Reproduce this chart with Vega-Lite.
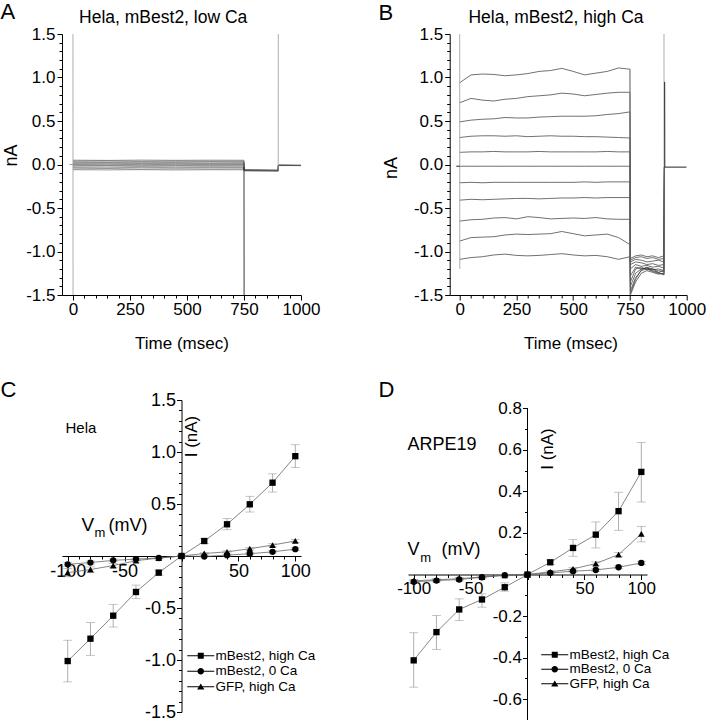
{
  "$schema": "https://vega.github.io/schema/vega-lite/v6.json",
  "padding": 0,
  "bounds": "full",
  "spacing": 27,
  "resolve": {"scale": {"shape": "independent"}, "legend": {"shape": "independent"}},
  "config": {
    "font": "Liberation Sans",
    "view": {"stroke": null},
    "axis": {"grid": false, "domainColor": "#000", "tickColor": "#000", "labelColor": "#000", "titleColor": "#000", "titleFontWeight": "normal", "labelFlush": false, "labelOverlap": false, "domainWidth": 1, "tickWidth": 1, "labelFont": "Liberation Sans", "titleFont": "Liberation Sans"},
    "legend": {"labelColor": "#000", "labelFont": "Liberation Sans"}
  },
  "datasets": {
    "traceA": [
      {"t": -15, "a6": 0},
      {"t": 0, "a1": 0.05, "a2": 0.04, "a3": 0.03, "a4": 0.02, "a5": 0.01, "a6": 0, "a7": -0.01, "a8": -0.02, "a9": -0.035, "a10": -0.05, "a11": -0.06},
      {"t": 150, "a1": 0.047, "a2": 0.043, "a3": 0.028, "a4": 0.022, "a5": 0.008, "a6": 0.003, "a7": -0.012, "a8": -0.018, "a9": -0.038, "a10": -0.047, "a11": -0.062},
      {"t": 300, "a1": 0.051, "a2": 0.038, "a3": 0.031, "a4": 0.019, "a5": 0.011, "a6": -0.002, "a7": -0.009, "a8": -0.022, "a9": -0.033, "a10": -0.052, "a11": -0.059},
      {"t": 450, "a1": 0.048, "a2": 0.041, "a3": 0.029, "a4": 0.021, "a5": 0.009, "a6": 0.002, "a7": -0.011, "a8": -0.019, "a9": -0.036, "a10": -0.049, "a11": -0.063},
      {"t": 600, "a1": 0.05, "a2": 0.039, "a3": 0.032, "a4": 0.018, "a5": 0.01, "a6": -0.001, "a7": -0.01, "a8": -0.021, "a9": -0.034, "a10": -0.051, "a11": -0.06},
      {"t": 750, "a1": 0.049, "a2": 0.04, "a3": 0.03, "a4": 0.02, "a5": 0.01, "a6": 0, "a7": -0.01, "a8": -0.02, "a9": -0.035, "a10": -0.05, "a11": -0.061},
      {"t": 751, "a1": -0.062, "a2": -0.063, "a3": -0.064, "a4": -0.065, "a5": -0.066, "a6": -0.067, "a7": -0.068, "a8": -0.069, "a9": -0.07, "a10": -0.071, "a11": -0.072},
      {"t": 825, "a1": -0.064, "a2": -0.065, "a3": -0.066, "a4": -0.066, "a5": -0.067, "a6": -0.068, "a7": -0.069, "a8": -0.07, "a9": -0.071, "a10": -0.072, "a11": -0.073},
      {"t": 900, "a1": -0.066, "a2": -0.067, "a3": -0.067, "a4": -0.068, "a5": -0.069, "a6": -0.07, "a7": -0.07, "a8": -0.071, "a9": -0.072, "a10": -0.073, "a11": -0.074},
      {"t": 901, "a1": -0.008, "a2": -0.009, "a3": -0.009, "a4": -0.01, "a5": -0.01, "a6": -0.01, "a7": -0.01, "a8": -0.011, "a9": -0.011, "a10": -0.012, "a11": -0.012},
      {"t": 1000, "a1": -0.01, "a2": -0.01, "a3": -0.011, "a4": -0.011, "a5": -0.011, "a6": -0.011, "a7": -0.011, "a8": -0.012, "a9": -0.012, "a10": -0.012, "a11": -0.012}
    ],
    "spikeA": [
      {"trace": "s0", "t": 0, "i": 1.5}, {"trace": "s0", "t": 0.5, "i": -1.5},
      {"trace": "s900", "t": 900, "i": -0.07}, {"trace": "s900", "t": 900.5, "i": 1.5}
    ],
    "stepA": [
      {"trace": "s750", "t": 750, "i": -0.03}, {"trace": "s750", "t": 750.5, "i": -1.5}
    ],
    "traceB": [
      {"t": 0, "b1": 0.94, "b2": 0.71, "b3": 0.49, "b4": 0.31, "b5": 0.14, "b6": -0.02, "b7": -0.21, "b8": -0.41, "b9": -0.65, "b10": -0.88, "b11": -1.09},
      {"t": 50, "b1": 1.03, "b2": 0.76, "b3": 0.51, "b4": 0.325, "b5": 0.145, "b6": -0.02, "b7": -0.205, "b8": -0.4, "b9": -0.635, "b10": -0.84, "b11": -1.07},
      {"t": 100, "b1": 1.04, "b2": 0.74, "b3": 0.52, "b4": 0.33, "b5": 0.145, "b6": -0.02, "b7": -0.21, "b8": -0.405, "b9": -0.63, "b10": -0.835, "b11": -1.06},
      {"t": 150, "b1": 1.035, "b2": 0.73, "b3": 0.525, "b4": 0.33, "b5": 0.15, "b6": -0.02, "b7": -0.205, "b8": -0.4, "b9": -0.615, "b10": -0.83, "b11": -1.04},
      {"t": 200, "b1": 1.02, "b2": 0.75, "b3": 0.54, "b4": 0.325, "b5": 0.145, "b6": -0.02, "b7": -0.205, "b8": -0.395, "b9": -0.61, "b10": -0.81, "b11": -1.03},
      {"t": 250, "b1": 1.03, "b2": 0.76, "b3": 0.535, "b4": 0.33, "b5": 0.145, "b6": -0.02, "b7": -0.205, "b8": -0.39, "b9": -0.625, "b10": -0.8, "b11": -1.045},
      {"t": 300, "b1": 1.045, "b2": 0.78, "b3": 0.535, "b4": 0.32, "b5": 0.145, "b6": -0.02, "b7": -0.205, "b8": -0.39, "b9": -0.6, "b10": -0.805, "b11": -1.05},
      {"t": 350, "b1": 1.07, "b2": 0.79, "b3": 0.545, "b4": 0.325, "b5": 0.15, "b6": -0.02, "b7": -0.205, "b8": -0.395, "b9": -0.61, "b10": -0.8, "b11": -1.045},
      {"t": 400, "b1": 1.08, "b2": 0.8, "b3": 0.55, "b4": 0.33, "b5": 0.145, "b6": -0.02, "b7": -0.205, "b8": -0.39, "b9": -0.625, "b10": -0.795, "b11": -1.035},
      {"t": 450, "b1": 1.105, "b2": 0.82, "b3": 0.555, "b4": 0.325, "b5": 0.145, "b6": -0.02, "b7": -0.205, "b8": -0.385, "b9": -0.62, "b10": -0.77, "b11": -1.025},
      {"t": 500, "b1": 1.07, "b2": 0.81, "b3": 0.555, "b4": 0.325, "b5": 0.145, "b6": -0.02, "b7": -0.205, "b8": -0.385, "b9": -0.615, "b10": -0.795, "b11": -1.04},
      {"t": 550, "b1": 1.03, "b2": 0.79, "b3": 0.555, "b4": 0.32, "b5": 0.145, "b6": -0.02, "b7": -0.2, "b8": -0.38, "b9": -0.62, "b10": -0.82, "b11": -1.05},
      {"t": 600, "b1": 1.05, "b2": 0.805, "b3": 0.56, "b4": 0.32, "b5": 0.145, "b6": -0.02, "b7": -0.205, "b8": -0.385, "b9": -0.61, "b10": -0.81, "b11": -1.045},
      {"t": 650, "b1": 1.07, "b2": 0.82, "b3": 0.575, "b4": 0.315, "b5": 0.15, "b6": -0.02, "b7": -0.2, "b8": -0.38, "b9": -0.625, "b10": -0.8, "b11": -1.06},
      {"t": 700, "b1": 1.11, "b2": 0.83, "b3": 0.585, "b4": 0.31, "b5": 0.145, "b6": -0.02, "b7": -0.2, "b8": -0.38, "b9": -0.63, "b10": -0.84, "b11": -1.09},
      {"t": 750, "b1": 1.095, "b2": 0.83, "b3": 0.605, "b4": 0.305, "b5": 0.145, "b6": -0.02, "b7": -0.2, "b8": -0.38, "b9": -0.63, "b10": -0.92, "b11": -1.06},
      {"t": 752, "b1": -1.08, "b2": -1.1, "b3": -1.12, "b4": -1.15, "b5": -1.2, "b6": -1.28, "b7": -1.35, "b8": -1.4, "b9": -1.45, "b10": -1.48, "b11": -1.5},
      {"t": 775, "b1": -1.05, "b2": -1.07, "b3": -1.09, "b4": -1.12, "b5": -1.15, "b6": -1.18, "b7": -1.2, "b8": -1.25, "b9": -1.3, "b10": -1.32, "b11": -1.35},
      {"t": 800, "b1": -1.04, "b2": -1.06, "b3": -1.1, "b4": -1.13, "b5": -1.17, "b6": -1.2, "b7": -1.18, "b8": -1.2, "b9": -1.22, "b10": -1.21, "b11": -1.25},
      {"t": 825, "b1": -1.06, "b2": -1.08, "b3": -1.12, "b4": -1.15, "b5": -1.16, "b6": -1.19, "b7": -1.21, "b8": -1.19, "b9": -1.2, "b10": -1.18, "b11": -1.22},
      {"t": 850, "b1": -1.05, "b2": -1.07, "b3": -1.11, "b4": -1.14, "b5": -1.18, "b6": -1.21, "b7": -1.2, "b8": -1.22, "b9": -1.23, "b10": -1.2, "b11": -1.24},
      {"t": 875, "b1": -1.07, "b2": -1.09, "b3": -1.1, "b4": -1.16, "b5": -1.17, "b6": -1.2, "b7": -1.22, "b8": -1.24, "b9": -1.25, "b10": -1.24, "b11": -1.26},
      {"t": 900, "b1": -1.05, "b2": -1.08, "b3": -1.12, "b4": -1.15, "b5": -1.19, "b6": -1.22, "b7": -1.23, "b8": -1.22, "b9": -1.26, "b10": -1.27, "b11": -1.25},
      {"t": 902, "b1": -0.03, "b2": -0.03, "b3": -0.03, "b4": -0.03, "b5": -0.03, "b6": -0.03, "b7": -0.03, "b8": -0.03, "b9": -0.03, "b10": -0.03, "b11": -0.03}
    ],
    "spikeB": [
      {"trace": "s0", "t": 0, "i": 1.5}, {"trace": "s0", "t": 0.5, "i": -1.2},
      {"trace": "s750", "t": 750, "i": 1.1}, {"trace": "s750", "t": 750.5, "i": -1.5},
      {"trace": "s900", "t": 900, "i": 1.5}, {"trace": "s900", "t": 900.5, "i": -1.26}
    ],
    "stepB": [
      {"trace": "base", "t": -15, "i": -0.02}, {"trace": "base", "t": 0, "i": -0.02},
      {"trace": "s903", "t": 903, "i": 0.95}, {"trace": "s903", "t": 903.5, "i": -0.03},
      {"trace": "post", "t": 903, "i": -0.03}, {"trace": "post", "t": 1000, "i": -0.03}
    ],
    "ivC": [
      {"series": "mBest2, high Ca", "v": -100, "i": -1.01, "lo": -1.21, "hi": -0.81},
      {"series": "mBest2, high Ca", "v": -80, "i": -0.795, "lo": -0.955, "hi": -0.64},
      {"series": "mBest2, high Ca", "v": -60, "i": -0.574, "lo": -0.683, "hi": -0.465},
      {"series": "mBest2, high Ca", "v": -40, "i": -0.346, "lo": -0.41, "hi": -0.28},
      {"series": "mBest2, high Ca", "v": -20, "i": -0.16, "lo": -0.185, "hi": -0.135},
      {"series": "mBest2, high Ca", "v": 0, "i": 0, "lo": -0.01, "hi": 0.01},
      {"series": "mBest2, high Ca", "v": 20, "i": 0.144, "lo": 0.12, "hi": 0.165},
      {"series": "mBest2, high Ca", "v": 40, "i": 0.305, "lo": 0.253, "hi": 0.36},
      {"series": "mBest2, high Ca", "v": 60, "i": 0.497, "lo": 0.423, "hi": 0.574},
      {"series": "mBest2, high Ca", "v": 80, "i": 0.705, "lo": 0.615, "hi": 0.79},
      {"series": "mBest2, high Ca", "v": 100, "i": 0.96, "lo": 0.85, "hi": 1.07},
      {"series": "mBest2, 0 Ca", "v": -100, "i": -0.08, "lo": -0.1, "hi": -0.06},
      {"series": "mBest2, 0 Ca", "v": -80, "i": -0.063, "lo": -0.078, "hi": -0.048},
      {"series": "mBest2, 0 Ca", "v": -60, "i": -0.042, "lo": -0.055, "hi": -0.029},
      {"series": "mBest2, 0 Ca", "v": -40, "i": -0.03, "lo": -0.04, "hi": -0.02},
      {"series": "mBest2, 0 Ca", "v": -20, "i": -0.019, "lo": -0.026, "hi": -0.012},
      {"series": "mBest2, 0 Ca", "v": 0, "i": 0, "lo": -0.005, "hi": 0.005},
      {"series": "mBest2, 0 Ca", "v": 20, "i": -0.004, "lo": -0.01, "hi": 0.002},
      {"series": "mBest2, 0 Ca", "v": 40, "i": 0.008, "lo": 0.0, "hi": 0.016},
      {"series": "mBest2, 0 Ca", "v": 60, "i": 0.022, "lo": 0.012, "hi": 0.032},
      {"series": "mBest2, 0 Ca", "v": 80, "i": 0.04, "lo": 0.03, "hi": 0.05},
      {"series": "mBest2, 0 Ca", "v": 100, "i": 0.066, "lo": 0.054, "hi": 0.078},
      {"series": "GFP, high Ca", "v": -100, "i": -0.16, "lo": -0.2, "hi": -0.12},
      {"series": "GFP, high Ca", "v": -80, "i": -0.13, "lo": -0.155, "hi": -0.105},
      {"series": "GFP, high Ca", "v": -60, "i": -0.092, "lo": -0.112, "hi": -0.072},
      {"series": "GFP, high Ca", "v": -40, "i": -0.045, "lo": -0.058, "hi": -0.032},
      {"series": "GFP, high Ca", "v": -20, "i": -0.02, "lo": -0.028, "hi": -0.012},
      {"series": "GFP, high Ca", "v": 0, "i": 0, "lo": -0.005, "hi": 0.005},
      {"series": "GFP, high Ca", "v": 20, "i": 0.024, "lo": 0.016, "hi": 0.032},
      {"series": "GFP, high Ca", "v": 40, "i": 0.04, "lo": 0.03, "hi": 0.05},
      {"series": "GFP, high Ca", "v": 60, "i": 0.07, "lo": 0.058, "hi": 0.082},
      {"series": "GFP, high Ca", "v": 80, "i": 0.105, "lo": 0.092, "hi": 0.118},
      {"series": "GFP, high Ca", "v": 100, "i": 0.145, "lo": 0.13, "hi": 0.16}
    ],
    "ivD": [
      {"series": "mBest2, high Ca", "v": -100, "i": -0.413, "lo": -0.542, "hi": -0.28},
      {"series": "mBest2, high Ca", "v": -80, "i": -0.277, "lo": -0.36, "hi": -0.197},
      {"series": "mBest2, high Ca", "v": -60, "i": -0.168, "lo": -0.221, "hi": -0.117},
      {"series": "mBest2, high Ca", "v": -40, "i": -0.12, "lo": -0.157, "hi": -0.093},
      {"series": "mBest2, high Ca", "v": -20, "i": -0.061, "lo": -0.08, "hi": -0.04},
      {"series": "mBest2, high Ca", "v": 0, "i": 0, "lo": -0.005, "hi": 0.005},
      {"series": "mBest2, high Ca", "v": 20, "i": 0.059, "lo": 0.048, "hi": 0.07},
      {"series": "mBest2, high Ca", "v": 40, "i": 0.128, "lo": 0.088, "hi": 0.168},
      {"series": "mBest2, high Ca", "v": 60, "i": 0.192, "lo": 0.128, "hi": 0.253},
      {"series": "mBest2, high Ca", "v": 80, "i": 0.305, "lo": 0.213, "hi": 0.396},
      {"series": "mBest2, high Ca", "v": 100, "i": 0.494, "lo": 0.349, "hi": 0.636},
      {"series": "mBest2, 0 Ca", "v": -100, "i": -0.035, "lo": -0.042, "hi": -0.028},
      {"series": "mBest2, 0 Ca", "v": -80, "i": -0.029, "lo": -0.035, "hi": -0.023},
      {"series": "mBest2, 0 Ca", "v": -60, "i": -0.024, "lo": -0.03, "hi": -0.018},
      {"series": "mBest2, 0 Ca", "v": -40, "i": -0.013, "lo": -0.018, "hi": -0.008},
      {"series": "mBest2, 0 Ca", "v": -20, "i": -0.003, "lo": -0.007, "hi": 0.001},
      {"series": "mBest2, 0 Ca", "v": 0, "i": 0, "lo": -0.003, "hi": 0.003},
      {"series": "mBest2, 0 Ca", "v": 20, "i": 0.008, "lo": 0.004, "hi": 0.012},
      {"series": "mBest2, 0 Ca", "v": 40, "i": 0.016, "lo": 0.011, "hi": 0.021},
      {"series": "mBest2, 0 Ca", "v": 60, "i": 0.022, "lo": 0.016, "hi": 0.028},
      {"series": "mBest2, 0 Ca", "v": 80, "i": 0.035, "lo": 0.028, "hi": 0.042},
      {"series": "mBest2, 0 Ca", "v": 100, "i": 0.056, "lo": 0.048, "hi": 0.064},
      {"series": "GFP, high Ca", "v": -100, "i": -0.03, "lo": -0.036, "hi": -0.024},
      {"series": "GFP, high Ca", "v": -80, "i": -0.025, "lo": -0.03, "hi": -0.02},
      {"series": "GFP, high Ca", "v": -60, "i": -0.02, "lo": -0.025, "hi": -0.015},
      {"series": "GFP, high Ca", "v": -40, "i": -0.012, "lo": -0.016, "hi": -0.008},
      {"series": "GFP, high Ca", "v": -20, "i": -0.004, "lo": -0.007, "hi": -0.001},
      {"series": "GFP, high Ca", "v": 0, "i": 0, "lo": -0.003, "hi": 0.003},
      {"series": "GFP, high Ca", "v": 20, "i": 0.013, "lo": 0.008, "hi": 0.018},
      {"series": "GFP, high Ca", "v": 40, "i": 0.027, "lo": 0.02, "hi": 0.034},
      {"series": "GFP, high Ca", "v": 60, "i": 0.053, "lo": 0.045, "hi": 0.061},
      {"series": "GFP, high Ca", "v": 80, "i": 0.096, "lo": 0.086, "hi": 0.106},
      {"series": "GFP, high Ca", "v": 100, "i": 0.196, "lo": 0.157, "hi": 0.232}
    ]
  },
  "vconcat": [
    {
      "bounds": "flush",
      "spacing": 148.7,
      "hconcat": [
        {
          "width": 239, "height": 261,
          "resolve": {"axis": {"x": "independent", "y": "independent"}},
          "layer": [
            {
              "data": {"name": "traceA"},
              "transform": [{"fold": ["a1", "a2", "a3", "a4", "a5", "a6", "a7", "a8", "a9", "a10", "a11"], "as": ["trace", "i"]}],
              "mark": {"type": "line", "stroke": "#555", "strokeWidth": 0.6, "clip": true},
              "encoding": {
                "x": {"field": "t", "type": "quantitative", "scale": {"domain": [-48, 1000], "nice": false, "zero": false},
                  "axis": {"orient": "bottom", "values": [0, 250, 500, 750, 1000], "format": "d", "tickSize": 5, "labelFontSize": 17, "labelPadding": 1, "title": "Time (msec)", "titleFontSize": 17, "titleX": 119.5, "titleY": 53, "titleAlign": "center", "titleBaseline": "alphabetic", "titleAngle": 0}},
                "y": {"field": "i", "type": "quantitative", "scale": {"domain": [-1.5, 1.5], "nice": false, "zero": false},
                  "axis": {"orient": "left", "values": [-1.5, -1, -0.5, 0, 0.5, 1, 1.5], "labelExpr": "(datum.value < 0 ? '-' : '') + format(abs(datum.value), '.1f')", "tickSize": 5, "labelFontSize": 17, "labelPadding": 2, "title": "nA", "titleFontSize": 18, "titleX": -50.5, "titleY": 121, "titleAngle": 270, "titleAlign": "center", "titleBaseline": "middle"}},
                "detail": {"field": "trace"}
              }
            },
            {
              "data": {"name": "spikeA"},
              "mark": {"type": "line", "stroke": "#999", "strokeWidth": 0.8, "clip": true},
              "encoding": {
                "x": {"field": "t", "type": "quantitative", "scale": {"domain": [-48, 1000], "nice": false, "zero": false}, "axis": null},
                "y": {"field": "i", "type": "quantitative", "scale": {"domain": [-1.5, 1.5], "nice": false, "zero": false}, "axis": null},
                "detail": {"field": "trace"}
              }
            },
            {
              "data": {"name": "stepA"},
              "mark": {"type": "line", "stroke": "#222", "strokeWidth": 0.9, "clip": true},
              "encoding": {
                "x": {"field": "t", "type": "quantitative", "scale": {"domain": [-48, 1000], "nice": false, "zero": false}, "axis": null},
                "y": {"field": "i", "type": "quantitative", "scale": {"domain": [-1.5, 1.5], "nice": false, "zero": false}, "axis": null},
                "detail": {"field": "trace"}
              }
            },
            {
              "data": {"name": "traceA"},
              "transform": [{"filter": "false"}],
              "mark": {"type": "point", "opacity": 0},
              "encoding": {
                "x": {"field": "t", "type": "quantitative", "scale": {"domain": [-48, 1000], "nice": false, "zero": false},
                  "axis": {"orient": "bottom", "values": [50, 100, 150, 200, 300, 350, 400, 450, 550, 600, 650, 700, 800, 850, 900, 950], "tickSize": 3, "labels": false, "domain": false, "title": null}},
                "y": {"field": "a1", "type": "quantitative", "scale": {"domain": [-1.5, 1.5], "nice": false, "zero": false},
                  "axis": {"orient": "left", "values": [-1.4, -1.3, -1.2, -1.1, -0.9, -0.8, -0.7, -0.6, -0.4, -0.3, -0.2, -0.1, 0.1, 0.2, 0.3, 0.4, 0.6, 0.7, 0.8, 0.9, 1.1, 1.2, 1.3, 1.4], "tickSize": 3, "labels": false, "domain": false, "title": null}}
              }
            },
            {
              "data": {"name": "traceA"},
              "transform": [{"filter": "false"}],
              "mark": {"type": "point", "opacity": 0},
              "encoding": {
                "x": {"field": "t", "type": "quantitative", "scale": {"domain": [-48, 1000], "nice": false, "zero": false},
                  "axis": {"orient": "top", "labels": false, "ticks": false, "domain": false, "title": "A", "titleFontSize": 22, "titleX": -62, "titleY": -16, "titleAlign": "left", "titleBaseline": "alphabetic", "titleAngle": 0}},
                "y": {"field": "a1", "type": "quantitative", "scale": {"domain": [-1.5, 1.5], "nice": false, "zero": false},
                  "axis": {"orient": "right", "labels": false, "ticks": false, "domain": false, "title": "Hela, mBest2, low Ca", "titleFontSize": 17.5, "titleX": -138.3, "titleY": -11.3, "titleAlign": "center", "titleBaseline": "alphabetic", "titleAngle": 0}}
              }
            }
          ]
        },
        {
          "width": 237, "height": 261,
          "resolve": {"axis": {"x": "independent", "y": "independent"}},
          "layer": [
            {
              "data": {"name": "traceB"},
              "transform": [{"fold": ["b1", "b2", "b3", "b4", "b5", "b6", "b7", "b8", "b9", "b10", "b11"], "as": ["trace", "i"]}],
              "mark": {"type": "line", "stroke": "#333", "strokeWidth": 0.7, "clip": true},
              "encoding": {
                "x": {"field": "t", "type": "quantitative", "scale": {"domain": [-44, 1000], "nice": false, "zero": false},
                  "axis": {"orient": "bottom", "values": [0, 250, 500, 750, 1000], "format": "d", "tickSize": 5, "labelFontSize": 17, "labelPadding": 1, "title": "Time (msec)", "titleFontSize": 17, "titleX": 120.8, "titleY": 53, "titleAlign": "center", "titleBaseline": "alphabetic", "titleAngle": 0}},
                "y": {"field": "i", "type": "quantitative", "scale": {"domain": [-1.5, 1.5], "nice": false, "zero": false},
                  "axis": {"orient": "left", "values": [-1.5, -1, -0.5, 0, 0.5, 1, 1.5], "labelExpr": "(datum.value < 0 ? '-' : '') + format(abs(datum.value), '.1f')", "tickSize": 5, "labelFontSize": 17, "labelPadding": 2, "title": "nA", "titleFontSize": 18, "titleX": -58.7, "titleY": 133.5, "titleAngle": 270, "titleAlign": "center", "titleBaseline": "middle"}},
                "detail": {"field": "trace"}
              }
            },
            {
              "data": {"name": "spikeB"},
              "mark": {"type": "line", "stroke": "#999", "strokeWidth": 0.8, "clip": true},
              "encoding": {
                "x": {"field": "t", "type": "quantitative", "scale": {"domain": [-44, 1000], "nice": false, "zero": false}, "axis": null},
                "y": {"field": "i", "type": "quantitative", "scale": {"domain": [-1.5, 1.5], "nice": false, "zero": false}, "axis": null},
                "detail": {"field": "trace"}
              }
            },
            {
              "data": {"name": "stepB"},
              "mark": {"type": "line", "stroke": "#222", "strokeWidth": 1, "clip": true},
              "encoding": {
                "x": {"field": "t", "type": "quantitative", "scale": {"domain": [-44, 1000], "nice": false, "zero": false}, "axis": null},
                "y": {"field": "i", "type": "quantitative", "scale": {"domain": [-1.5, 1.5], "nice": false, "zero": false}, "axis": null},
                "detail": {"field": "trace"}
              }
            },
            {
              "data": {"name": "traceB"},
              "transform": [{"filter": "false"}],
              "mark": {"type": "point", "opacity": 0},
              "encoding": {
                "x": {"field": "t", "type": "quantitative", "scale": {"domain": [-44, 1000], "nice": false, "zero": false},
                  "axis": {"orient": "bottom", "values": [50, 100, 150, 200, 300, 350, 400, 450, 550, 600, 650, 700, 800, 850, 900, 950], "tickSize": 3, "labels": false, "domain": false, "title": null}},
                "y": {"field": "b1", "type": "quantitative", "scale": {"domain": [-1.5, 1.5], "nice": false, "zero": false},
                  "axis": {"orient": "left", "values": [-1.4, -1.3, -1.2, -1.1, -0.9, -0.8, -0.7, -0.6, -0.4, -0.3, -0.2, -0.1, 0.1, 0.2, 0.3, 0.4, 0.6, 0.7, 0.8, 0.9, 1.1, 1.2, 1.3, 1.4], "tickSize": 3, "labels": false, "domain": false, "title": null}}
              }
            },
            {
              "data": {"name": "traceB"},
              "transform": [{"filter": "false"}],
              "mark": {"type": "point", "opacity": 0},
              "encoding": {
                "x": {"field": "t", "type": "quantitative", "scale": {"domain": [-44, 1000], "nice": false, "zero": false},
                  "axis": {"orient": "top", "labels": false, "ticks": false, "domain": false, "title": "B", "titleFontSize": 22, "titleX": -71.7, "titleY": -15, "titleAlign": "left", "titleBaseline": "alphabetic", "titleAngle": 0}},
                "y": {"field": "b1", "type": "quantitative", "scale": {"domain": [-1.5, 1.5], "nice": false, "zero": false},
                  "axis": {"orient": "right", "labels": false, "ticks": false, "domain": false, "title": "Hela, mBest2, high Ca", "titleFontSize": 17.5, "titleX": -131.2, "titleY": -11.3, "titleAlign": "center", "titleBaseline": "alphabetic", "titleAngle": 0}}
              }
            }
          ]
        }
      ]
    },
    {
      "bounds": "flush",
      "spacing": 107,
      "resolve": {"scale": {"shape": "independent"}, "legend": {"shape": "independent"}},
      "hconcat": [
        {
          "width": 239, "height": 312,
          "resolve": {"axis": {"x": "independent", "y": "independent"}},
          "layer": [
            {
              "data": {"name": "ivC"},
              "mark": {"type": "rule", "color": "#999", "strokeWidth": 0.8},
              "encoding": {
                "x": {"field": "v", "type": "quantitative", "scale": {"domain": [-105, 105], "nice": false, "zero": false}, "axis": null},
                "y": {"field": "lo", "type": "quantitative", "scale": {"domain": [-1.5, 1.5], "nice": false, "zero": false}, "axis": null},
                "y2": {"field": "hi"}
              }
            },
            {
              "data": {"name": "ivC"},
              "mark": {"type": "tick", "orient": "horizontal", "size": 9, "thickness": 0.8, "color": "#999"},
              "encoding": {
                "x": {"field": "v", "type": "quantitative", "scale": {"domain": [-105, 105], "nice": false, "zero": false}, "axis": null},
                "y": {"field": "lo", "type": "quantitative", "scale": {"domain": [-1.5, 1.5], "nice": false, "zero": false}, "axis": null}
              }
            },
            {
              "data": {"name": "ivC"},
              "mark": {"type": "tick", "orient": "horizontal", "size": 9, "thickness": 0.8, "color": "#999"},
              "encoding": {
                "x": {"field": "v", "type": "quantitative", "scale": {"domain": [-105, 105], "nice": false, "zero": false}, "axis": null},
                "y": {"field": "hi", "type": "quantitative", "scale": {"domain": [-1.5, 1.5], "nice": false, "zero": false}, "axis": null}
              }
            },
            {
              "data": {"name": "ivC"},
              "mark": {"type": "line", "color": "#666", "strokeWidth": 0.8},
              "encoding": {
                "x": {"field": "v", "type": "quantitative", "scale": {"domain": [-105, 105], "nice": false, "zero": false},
                  "axis": {"orient": "bottom", "offset": -156, "values": [-100, -50, 0, 50, 100], "labelExpr": "datum.value == 0 ? '' : (datum.value < 0 ? '-' : '') + abs(datum.value)", "tickSize": 5, "labelFontSize": 18, "labelPadding": 1, "title": "V", "titleFontSize": 19, "titleX": 19, "titleY": -25.7, "titleAlign": "left", "titleBaseline": "alphabetic", "titleAngle": 0}},
                "y": {"field": "i", "type": "quantitative", "scale": {"domain": [-1.5, 1.5], "nice": false, "zero": false},
                  "axis": {"orient": "left", "offset": -119.5, "values": [-1.5, -1, -0.5, 0, 0.5, 1, 1.5], "labelExpr": "datum.value == 0 ? '' : (datum.value < 0 ? '-' : '') + format(abs(datum.value), '.1f')", "tickSize": 5, "labelFontSize": 18, "labelPadding": 1, "title": "I (nA)", "titleFontSize": 17, "titleX": 9.5, "titleY": 36, "titleAngle": 270, "titleAlign": "center", "titleBaseline": "middle"}},
                "detail": {"field": "series"}
              }
            },
            {
              "data": {"name": "ivC"},
              "transform": [{"filter": "datum.series == 'mBest2, high Ca'"}],
              "mark": {"type": "point", "shape": "square", "filled": true, "color": "#000", "opacity": 1, "size": 40},
              "encoding": {
                "x": {"field": "v", "type": "quantitative", "scale": {"domain": [-105, 105], "nice": false, "zero": false}, "axis": null},
                "y": {"field": "i", "type": "quantitative", "scale": {"domain": [-1.5, 1.5], "nice": false, "zero": false}, "axis": null}
              }
            },
            {
              "data": {"name": "ivC"},
              "transform": [{"filter": "datum.series == 'mBest2, 0 Ca'"}],
              "mark": {"type": "point", "shape": "circle", "filled": true, "color": "#000", "opacity": 1, "size": 40},
              "encoding": {
                "x": {"field": "v", "type": "quantitative", "scale": {"domain": [-105, 105], "nice": false, "zero": false}, "axis": null},
                "y": {"field": "i", "type": "quantitative", "scale": {"domain": [-1.5, 1.5], "nice": false, "zero": false}, "axis": null}
              }
            },
            {
              "data": {"name": "ivC"},
              "transform": [{"filter": "datum.series == 'GFP, high Ca'"}],
              "mark": {"type": "point", "shape": "triangle-up", "filled": true, "color": "#000", "opacity": 1, "size": 45},
              "encoding": {
                "x": {"field": "v", "type": "quantitative", "scale": {"domain": [-105, 105], "nice": false, "zero": false}, "axis": null},
                "y": {"field": "i", "type": "quantitative", "scale": {"domain": [-1.5, 1.5], "nice": false, "zero": false}, "axis": null}
              }
            },
            {
              "data": {"name": "ivC"},
              "transform": [{"filter": "false"}],
              "mark": {"type": "point", "filled": true, "color": "#000", "opacity": 1},
              "encoding": {
                "shape": {"field": "series", "type": "nominal",
                  "scale": {"domain": ["mBest2, high Ca", "mBest2, 0 Ca", "GFP, high Ca"], "range": ["M-4.5,-0.13H4.5V0.13H-4.5ZM-1,-1H1V1H-1Z", "M-4.5,-0.13H4.5V0.13H-4.5ZM1.1,0A1.1,1.1,0,1,1,-1.1,0A1.1,1.1,0,1,1,1.1,0Z", "M-4.5,-0.13H4.5V0.13H-4.5ZM0,-1.1L1.2,0.95L-1.2,0.95Z"]},
                  "legend": {"orient": "none", "legendX": 132, "legendY": 249, "title": null, "labelFontSize": 13.5, "symbolSize": 36, "labelOffset": 8, "rowPadding": 0.5, "padding": 0, "symbolStrokeWidth": 0, "symbolFillColor": "#000",
                    "encode": {"symbols": {"fill": {"value": "#000"}, "strokeWidth": {"value": 0}}}}}
              }
            },
            {
              "data": {"name": "ivC"},
              "transform": [{"filter": "false"}],
              "mark": {"type": "point", "opacity": 0},
              "encoding": {
                "x": {"field": "v", "type": "quantitative", "scale": {"domain": [-105, 105], "nice": false, "zero": false},
                  "axis": {"orient": "bottom", "offset": -156, "values": [-90, -80, -70, -60, -40, -30, -20, -10, 10, 20, 30, 40, 60, 70, 80, 90], "tickSize": 3, "labels": false, "domain": false, "title": "(mV)", "titleFontSize": 18, "titleX": 46, "titleY": -25.7, "titleAlign": "left", "titleBaseline": "alphabetic", "titleAngle": 0}},
                "y": {"field": "i", "type": "quantitative", "scale": {"domain": [-1.5, 1.5], "nice": false, "zero": false},
                  "axis": {"orient": "left", "offset": -119.5, "values": [-1.4, -1.3, -1.2, -1.1, -0.9, -0.8, -0.7, -0.6, -0.4, -0.3, -0.2, -0.1, 0.1, 0.2, 0.3, 0.4, 0.6, 0.7, 0.8, 0.9, 1.1, 1.2, 1.3, 1.4], "tickSize": 3, "labels": false, "domain": false, "title": "m", "titleFontSize": 13, "titleX": -87.5, "titleY": 136, "titleAlign": "left", "titleBaseline": "alphabetic", "titleAngle": 0}}
              }
            },
            {
              "data": {"name": "ivC"},
              "transform": [{"filter": "false"}],
              "mark": {"type": "point", "opacity": 0},
              "encoding": {
                "x": {"field": "v", "type": "quantitative", "scale": {"domain": [-105, 105], "nice": false, "zero": false},
                  "axis": {"orient": "top", "labels": false, "ticks": false, "domain": false, "title": "C", "titleFontSize": 22, "titleX": -62, "titleY": -4, "titleAlign": "left", "titleBaseline": "alphabetic", "titleAngle": 0}},
                "y": {"field": "i", "type": "quantitative", "scale": {"domain": [-1.5, 1.5], "nice": false, "zero": false},
                  "axis": {"orient": "right", "labels": false, "ticks": false, "domain": false, "title": "Hela", "titleFontSize": 15, "titleX": -236, "titleY": 32, "titleAlign": "left", "titleBaseline": "alphabetic", "titleAngle": 0}}
              }
            }
          ]
        },
        {
          "width": 239, "height": 320,
          "resolve": {"axis": {"x": "independent", "y": "independent"}},
          "layer": [
            {
              "data": {"name": "ivD"},
              "transform": [{"filter": "datum.v == 0 && datum.series == 'mBest2, high Ca'"}],
              "mark": {"type": "rule", "color": "#000", "strokeWidth": 1},
              "encoding": {
                "x": {"datum": 0, "type": "quantitative", "scale": {"domain": [-105, 105], "nice": false, "zero": false}, "axis": null},
                "y": {"datum": -0.7, "type": "quantitative", "scale": {"domain": [-0.7, 0.84], "nice": false, "zero": false}, "axis": null},
                "y2": {"datum": 0.8}
              }
            },
            {
              "data": {"name": "ivD"},
              "mark": {"type": "rule", "color": "#999", "strokeWidth": 0.8},
              "encoding": {
                "x": {"field": "v", "type": "quantitative", "scale": {"domain": [-105, 105], "nice": false, "zero": false}, "axis": null},
                "y": {"field": "lo", "type": "quantitative", "scale": {"domain": [-0.7, 0.84], "nice": false, "zero": false}, "axis": null},
                "y2": {"field": "hi"}
              }
            },
            {
              "data": {"name": "ivD"},
              "mark": {"type": "tick", "orient": "horizontal", "size": 9, "thickness": 0.8, "color": "#999"},
              "encoding": {
                "x": {"field": "v", "type": "quantitative", "scale": {"domain": [-105, 105], "nice": false, "zero": false}, "axis": null},
                "y": {"field": "lo", "type": "quantitative", "scale": {"domain": [-0.7, 0.84], "nice": false, "zero": false}, "axis": null}
              }
            },
            {
              "data": {"name": "ivD"},
              "mark": {"type": "tick", "orient": "horizontal", "size": 9, "thickness": 0.8, "color": "#999"},
              "encoding": {
                "x": {"field": "v", "type": "quantitative", "scale": {"domain": [-105, 105], "nice": false, "zero": false}, "axis": null},
                "y": {"field": "hi", "type": "quantitative", "scale": {"domain": [-0.7, 0.84], "nice": false, "zero": false}, "axis": null}
              }
            },
            {
              "data": {"name": "ivD"},
              "mark": {"type": "line", "color": "#666", "strokeWidth": 0.8},
              "encoding": {
                "x": {"field": "v", "type": "quantitative", "scale": {"domain": [-105, 105], "nice": false, "zero": false},
                  "axis": {"orient": "bottom", "offset": -145.5, "values": [-100, -50, 0, 50, 100], "labelExpr": "datum.value == 0 ? '' : (datum.value < 0 ? '-' : '') + abs(datum.value)", "tickSize": 5, "labelFontSize": 17, "labelPadding": 1, "title": "V", "titleFontSize": 18, "titleX": -1, "titleY": -20.5, "titleAlign": "left", "titleBaseline": "alphabetic", "titleAngle": 0}},
                "y": {"field": "i", "type": "quantitative", "scale": {"domain": [-0.7, 0.84], "nice": false, "zero": false},
                  "axis": {"orient": "left", "offset": -119.5, "domain": false, "values": [-0.6, -0.4, -0.2, 0, 0.2, 0.4, 0.6, 0.8], "labelExpr": "datum.value == 0 ? '' : (datum.value < 0 ? '-' : '') + format(abs(datum.value), '.1f')", "tickSize": 5, "labelFontSize": 17, "labelPadding": 1, "title": "I (nA)", "titleFontSize": 17, "titleX": 19.5, "titleY": 48.5, "titleAngle": 270, "titleAlign": "center", "titleBaseline": "middle"}},
                "detail": {"field": "series"}
              }
            },
            {
              "data": {"name": "ivD"},
              "transform": [{"filter": "datum.series == 'mBest2, high Ca'"}],
              "mark": {"type": "point", "shape": "square", "filled": true, "color": "#000", "opacity": 1, "size": 40},
              "encoding": {
                "x": {"field": "v", "type": "quantitative", "scale": {"domain": [-105, 105], "nice": false, "zero": false}, "axis": null},
                "y": {"field": "i", "type": "quantitative", "scale": {"domain": [-0.7, 0.84], "nice": false, "zero": false}, "axis": null}
              }
            },
            {
              "data": {"name": "ivD"},
              "transform": [{"filter": "datum.series == 'mBest2, 0 Ca'"}],
              "mark": {"type": "point", "shape": "circle", "filled": true, "color": "#000", "opacity": 1, "size": 40},
              "encoding": {
                "x": {"field": "v", "type": "quantitative", "scale": {"domain": [-105, 105], "nice": false, "zero": false}, "axis": null},
                "y": {"field": "i", "type": "quantitative", "scale": {"domain": [-0.7, 0.84], "nice": false, "zero": false}, "axis": null}
              }
            },
            {
              "data": {"name": "ivD"},
              "transform": [{"filter": "datum.series == 'GFP, high Ca'"}],
              "mark": {"type": "point", "shape": "triangle-up", "filled": true, "color": "#000", "opacity": 1, "size": 45},
              "encoding": {
                "x": {"field": "v", "type": "quantitative", "scale": {"domain": [-105, 105], "nice": false, "zero": false}, "axis": null},
                "y": {"field": "i", "type": "quantitative", "scale": {"domain": [-0.7, 0.84], "nice": false, "zero": false}, "axis": null}
              }
            },
            {
              "data": {"name": "ivD"},
              "transform": [{"filter": "false"}],
              "mark": {"type": "point", "filled": true, "color": "#000", "opacity": 1},
              "encoding": {
                "shape": {"field": "series", "type": "nominal",
                  "scale": {"domain": ["mBest2, high Ca", "mBest2, 0 Ca", "GFP, high Ca"], "range": ["M-4.5,-0.13H4.5V0.13H-4.5ZM-1,-1H1V1H-1Z", "M-4.5,-0.13H4.5V0.13H-4.5ZM1.1,0A1.1,1.1,0,1,1,-1.1,0A1.1,1.1,0,1,1,1.1,0Z", "M-4.5,-0.13H4.5V0.13H-4.5ZM0,-1.1L1.2,0.95L-1.2,0.95Z"]},
                  "legend": {"orient": "none", "legendX": 140, "legendY": 248, "title": null, "labelFontSize": 13.5, "symbolSize": 36, "labelOffset": 8, "rowPadding": -0.5, "padding": 0, "symbolStrokeWidth": 0, "symbolFillColor": "#000",
                    "encode": {"symbols": {"fill": {"value": "#000"}, "strokeWidth": {"value": 0}}}}}
              }
            },
            {
              "data": {"name": "ivD"},
              "transform": [{"filter": "false"}],
              "mark": {"type": "point", "opacity": 0},
              "encoding": {
                "x": {"field": "v", "type": "quantitative", "scale": {"domain": [-105, 105], "nice": false, "zero": false},
                  "axis": {"orient": "bottom", "offset": -145.5, "values": [-90, -80, -70, -60, -40, -30, -20, -10, 10, 20, 30, 40, 60, 70, 80, 90], "tickSize": 3, "labels": false, "domain": false, "title": "(mV)", "titleFontSize": 18, "titleX": 33, "titleY": -20.5, "titleAlign": "left", "titleBaseline": "alphabetic", "titleAngle": 0}},
                "y": {"field": "i", "type": "quantitative", "scale": {"domain": [-0.7, 0.84], "nice": false, "zero": false},
                  "axis": {"orient": "left", "offset": -119.5, "values": [-0.7, -0.5, -0.3, -0.1, 0.1, 0.3, 0.5, 0.7], "tickSize": 3, "labels": false, "domain": false, "title": "m", "titleFontSize": 13, "titleX": -107.8, "titleY": 161, "titleAlign": "left", "titleBaseline": "alphabetic", "titleAngle": 0}}
              }
            },
            {
              "data": {"name": "ivD"},
              "transform": [{"filter": "false"}],
              "mark": {"type": "point", "opacity": 0},
              "encoding": {
                "x": {"field": "v", "type": "quantitative", "scale": {"domain": [-105, 105], "nice": false, "zero": false},
                  "axis": {"orient": "top", "labels": false, "ticks": false, "domain": false, "title": "D", "titleFontSize": 22, "titleX": -30, "titleY": -4, "titleAlign": "left", "titleBaseline": "alphabetic", "titleAngle": 0}},
                "y": {"field": "i", "type": "quantitative", "scale": {"domain": [-0.7, 0.84], "nice": false, "zero": false},
                  "axis": {"orient": "right", "labels": false, "ticks": false, "domain": false, "title": "ARPE19", "titleFontSize": 18, "titleX": -240, "titleY": 49, "titleAlign": "left", "titleBaseline": "alphabetic", "titleAngle": 0}}
              }
            }
          ]
        }
      ]
    }
  ]
}
